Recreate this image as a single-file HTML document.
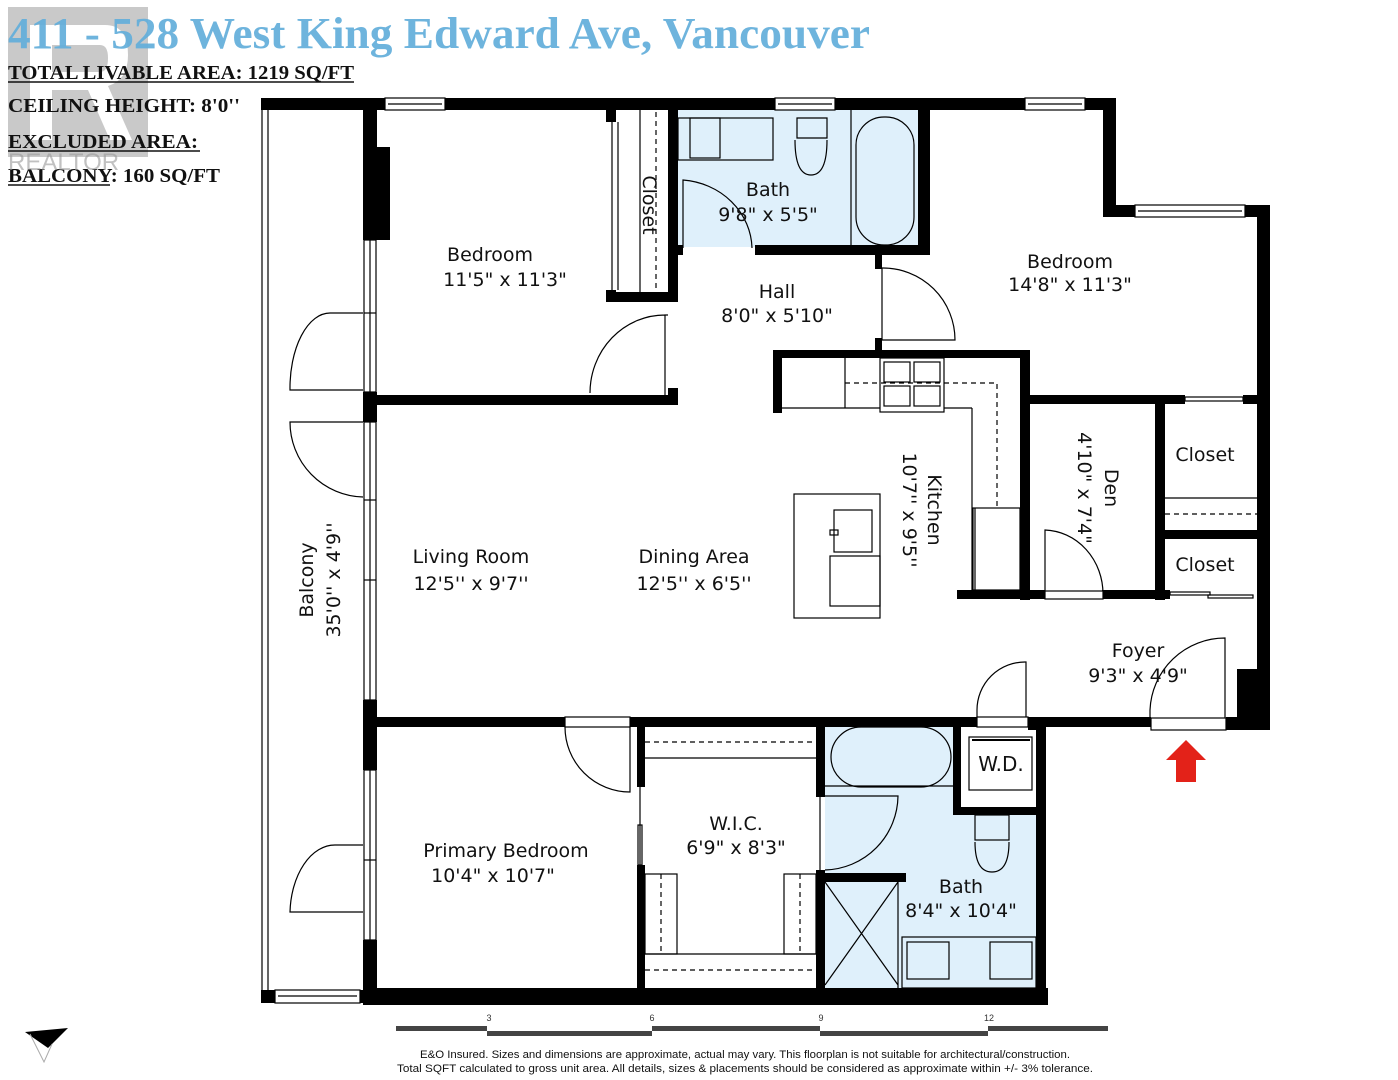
<!DOCTYPE html>
<html><head><meta charset="utf-8"><style>
html,body{margin:0;padding:0;background:#fff;}
body{width:1398px;height:1080px;overflow:hidden;position:relative;}
svg{position:absolute;left:0;top:0;}
</style></head><body>
<svg width="1398" height="1080" viewBox="0 0 1398 1080" xmlns="http://www.w3.org/2000/svg">
<!-- realtor logo faint -->
<g opacity="0.45">
<rect x="8" y="7" width="140" height="150" fill="#888"/>
<path d="M30 25 H105 Q128 25 128 55 Q128 80 108 86 L132 140 H110 L88 90 H52 V140 H30 Z M52 45 V72 H100 Q108 72 108 58 Q108 45 100 45 Z" fill="#fff"/>
</g>
<text x="8" y="48" font-family="Liberation Serif,serif" font-weight="bold" font-size="44" fill="#62aedb" opacity="0.92" textLength="862" lengthAdjust="spacingAndGlyphs">411 - 528 West King Edward Ave, Vancouver</text>
<g font-family="Liberation Serif,serif" font-weight="bold" font-size="20" fill="#111">
<text x="8" y="79" textLength="346" lengthAdjust="spacingAndGlyphs">TOTAL LIVABLE AREA: 1219 SQ/FT</text>
<line x1="8" y1="82" x2="354" y2="82" stroke="#111" stroke-width="1.5"/>
<text x="8" y="112" textLength="232" lengthAdjust="spacingAndGlyphs">CEILING  HEIGHT: 8'0''</text>
<text x="8" y="148" textLength="190" lengthAdjust="spacingAndGlyphs">EXCLUDED AREA:</text>
<line x1="8" y1="151" x2="200" y2="151" stroke="#111" stroke-width="1.5"/>
<text x="8" y="182" textLength="212" lengthAdjust="spacingAndGlyphs">BALCONY: 160 SQ/FT</text>
<line x1="8" y1="185" x2="110" y2="185" stroke="#111" stroke-width="1.5"/>
</g>
<text x="8" y="170" font-family="Liberation Sans,sans-serif" font-size="24" fill="#999" opacity="0.6">REALTOR</text>

<!-- blue baths -->
<rect x="678" y="110" width="240" height="137" fill="#dff0fb"/>
<rect x="825" y="726" width="211" height="262" fill="#dff0fb"/>
<rect x="953" y="726" width="83" height="89" fill="#fff"/>

<g fill="#000">
<rect x="261" y="98" width="855" height="12"/>
<rect x="1103" y="98" width="13" height="119"/>
<rect x="1103" y="205" width="167" height="12"/>
<rect x="1257" y="205" width="13" height="525"/>
<rect x="1237" y="669" width="33" height="61"/>
<rect x="363" y="110" width="14" height="130"/>
<rect x="363" y="147" width="27" height="93"/>
<rect x="363" y="392" width="14" height="30"/>
<rect x="363" y="700" width="14" height="70"/>
<rect x="363" y="940" width="14" height="63"/>
<rect x="363" y="395" width="315" height="10"/>
<rect x="606" y="110" width="10" height="12"/>
<rect x="606" y="290" width="10" height="12"/>
<rect x="606" y="292" width="72" height="10"/>
<rect x="668" y="110" width="10" height="192"/>
<rect x="668" y="388" width="10" height="17"/>
<rect x="668" y="245" width="15" height="10"/>
<rect x="755" y="245" width="175" height="10"/>
<rect x="918" y="110" width="12" height="145"/>
<rect x="875" y="255" width="7" height="14"/>
<rect x="875" y="338" width="7" height="20"/>
<rect x="773" y="350" width="257" height="8"/>
<rect x="773" y="350" width="9" height="63"/>
<rect x="1020" y="350" width="10" height="250"/>
<rect x="1030" y="395" width="155" height="9"/>
<rect x="1243" y="395" width="27" height="9"/>
<rect x="1155" y="395" width="10" height="205"/>
<rect x="1165" y="530" width="92" height="9"/>
<rect x="957" y="590" width="88" height="9"/>
<rect x="1102" y="590" width="68" height="9"/>
<rect x="363" y="717" width="202" height="10"/>
<rect x="630" y="717" width="347" height="10"/>
<rect x="1028" y="717" width="123" height="10"/>
<rect x="1028" y="717" width="10" height="13"/>
<rect x="1226" y="717" width="44" height="13"/>
<rect x="363" y="727" width="14" height="10"/>
<rect x="637" y="727" width="8" height="60"/>
<rect x="637" y="865" width="8" height="125"/>
<rect x="816" y="727" width="9" height="70"/>
<rect x="816" y="870" width="9" height="120"/>
<rect x="816" y="873" width="90" height="9"/>
<rect x="953" y="727" width="8" height="88"/>
<rect x="953" y="807" width="90" height="8"/>
<rect x="1036" y="727" width="10" height="278"/>
<rect x="363" y="988" width="685" height="17"/>
<rect x="261" y="990" width="14" height="13"/>
<rect x="360" y="990" width="10" height="13"/>
</g>

<g fill="none" stroke="#000" stroke-width="1.2">
<rect x="385" y="98" width="60" height="12" fill="#fff"/><line x1="388" y1="104" x2="442" y2="104"/>
<rect x="775" y="98" width="60" height="12" fill="#fff"/><line x1="778" y1="104" x2="832" y2="104"/>
<rect x="1025" y="98" width="60" height="12" fill="#fff"/><line x1="1028" y1="104" x2="1082" y2="104"/>
<rect x="1135" y="205" width="110" height="12" fill="#fff"/><line x1="1138" y1="211" x2="1242" y2="211"/>
<rect x="275" y="990" width="85" height="13" fill="#fff"/><line x1="278" y1="996" x2="357" y2="996"/>
<line x1="262" y1="110" x2="262" y2="990"/><line x1="268" y1="110" x2="268" y2="990"/>
<rect x="364" y="240" width="12" height="152"/><line x1="370" y1="240" x2="370" y2="392"/>
<rect x="364" y="422" width="12" height="278"/><line x1="370" y1="422" x2="370" y2="700"/>
<rect x="364" y="770" width="12" height="170"/><line x1="370" y1="770" x2="370" y2="940"/>
<line x1="364" y1="313" x2="376" y2="313"/><line x1="364" y1="500" x2="376" y2="500"/><line x1="364" y1="580" x2="376" y2="580"/><line x1="364" y1="860" x2="376" y2="860"/>
<path d="M363 313 L330 313 A40 75 0 0 0 290 390 L363 390"/>
<path d="M363 422 L290 422 A75 75 0 0 0 363 497"/>
<path d="M363 845 L335 845 A45 70 0 0 0 290 912 L363 912"/>
<line x1="612" y1="122" x2="612" y2="290"/><line x1="618" y1="122" x2="618" y2="290"/>
<line x1="640" y1="110" x2="640" y2="292"/>
<line x1="656" y1="112" x2="656" y2="290" stroke-dasharray="5,4"/>
<path d="M668 315 L665 315 L665 395 M665 315 A75 78 0 0 0 590 393"/>
<path d="M683 248 L683 180 A75 70 0 0 1 752 248"/>
<rect x="678" y="118" width="95" height="42"/>
<rect x="690" y="118" width="30" height="40"/>
<path d="M797 118 h30 v20 h-30 z M795 140 q0 35 16 35 q16 0 16 -35"/>
<line x1="851" y1="110" x2="851" y2="247"/>
<rect x="856" y="117" width="58" height="128" rx="28"/>
<path d="M882 268 L882 340 L955 340 A72 72 0 0 0 882 268"/>
<line x1="782" y1="408" x2="880" y2="408"/>
<line x1="944" y1="408" x2="972" y2="408"/>
<line x1="972" y1="408" x2="972" y2="590"/>
<line x1="975" y1="508" x2="975" y2="590"/>
<line x1="845" y1="358" x2="845" y2="408"/>
<rect x="880" y="358" width="64" height="54"/>
<rect x="884" y="362" width="26" height="20"/><rect x="914" y="362" width="26" height="20"/>
<rect x="884" y="386" width="26" height="20"/><rect x="914" y="386" width="26" height="20"/>
<path d="M845 383 H997 V508" stroke-dasharray="5,4"/>
<rect x="973" y="508" width="47" height="82"/>
<rect x="794" y="494" width="86" height="124"/>
<rect x="834" y="510" width="38" height="42"/>
<rect x="830" y="556" width="50" height="50"/>
<rect x="830" y="530" width="8" height="5"/>
<path d="M1045 594 L1045 530 A60 64 0 0 1 1103 594"/>
<rect x="1045" y="591" width="58" height="8" fill="#fff"/>
<rect x="1185" y="397" width="58" height="4"/>
<line x1="1165" y1="498" x2="1257" y2="498"/>
<line x1="1165" y1="514" x2="1257" y2="514" stroke-dasharray="5,4"/>
<rect x="1170" y="592" width="40" height="3"/><rect x="1208" y="595" width="45" height="3"/>
<path d="M1150 725 L1150 710 A75 75 0 0 1 1225 638 L1225 725"/>
<rect x="1151" y="718" width="75" height="12" fill="#fff"/>
<path d="M977 720 L977 710 A48 48 0 0 1 1026 662 L1026 720"/>
<rect x="977" y="717" width="51" height="10" fill="#fff"/>
<rect x="565" y="717" width="65" height="10" fill="#fff"/>
<path d="M565 727 A65 65 0 0 0 630 792 L630 727"/>
<line x1="645" y1="742" x2="816" y2="742" stroke-dasharray="5,4"/>
<line x1="645" y1="758" x2="816" y2="758"/>
<line x1="645" y1="954" x2="816" y2="954"/>
<line x1="645" y1="970" x2="816" y2="970" stroke-dasharray="5,4"/>
<rect x="645" y="874" width="32" height="80"/><rect x="784" y="874" width="32" height="80"/>
<line x1="661" y1="874" x2="661" y2="954" stroke-dasharray="5,4"/>
<line x1="800" y1="874" x2="800" y2="954" stroke-dasharray="5,4"/>
<line x1="640" y1="787" x2="640" y2="865"/>
<rect x="638" y="825" width="4" height="40"/>
<rect x="831" y="727" width="120" height="60" rx="30"/>
<line x1="825" y1="786" x2="953" y2="786"/>
<path d="M825 796 L898 796 A75 75 0 0 1 825 870"/>
<line x1="820" y1="797" x2="820" y2="870"/>
<path d="M825 882 L898 985 M898 882 L825 985 M898 882 V988"/>
<rect x="975" y="815" width="34" height="25"/>
<path d="M975 842 q0 30 17 30 q17 0 17 -30"/>
<rect x="902" y="937" width="134" height="51"/>
<rect x="907" y="942" width="42" height="37"/><rect x="990" y="942" width="42" height="37"/>
<rect x="969" y="737" width="63" height="53" fill="#fff"/>
<line x1="972" y1="740" x2="1030" y2="740" stroke-width="2"/>
</g>

<path d="M1186 740 L1206 760 L1196 760 L1196 782 L1176 782 L1176 760 L1166 760 Z" fill="#e32219"/>

<g font-family="DejaVu Sans,Liberation Sans,sans-serif" font-size="19" fill="#111" text-anchor="middle">
<text x="490" y="261">Bedroom</text><text x="505" y="286">11'5" x 11'3"</text>
<text x="768" y="196">Bath</text><text x="768" y="221">9'8" x 5'5"</text>
<text x="777" y="298">Hall</text><text x="777" y="322">8'0" x 5'10"</text>
<text x="1070" y="268">Bedroom</text><text x="1070" y="291">14'8" x 11'3"</text>
<text x="1205" y="461">Closet</text><text x="1205" y="571">Closet</text>
<text x="471" y="563">Living Room</text><text x="471" y="590">12'5'' x 9'7''</text>
<text x="694" y="563">Dining Area</text><text x="694" y="590">12'5'' x 6'5''</text>
<text x="1138" y="657">Foyer</text><text x="1138" y="682">9'3" x 4'9"</text>
<text x="506" y="857">Primary Bedroom</text><text x="493" y="882">10'4" x 10'7"</text>
<text x="736" y="830">W.I.C.</text><text x="736" y="854">6'9" x 8'3"</text>
<text x="961" y="893">Bath</text><text x="961" y="917">8'4" x 10'4"</text>
<text x="1001" y="771" font-size="20">W.D.</text>
<text transform="translate(643,205) rotate(90)">Closet</text>
<text transform="translate(928,510) rotate(90)">Kitchen</text>
<text transform="translate(903,510) rotate(90)">10'7'' x 9'5''</text>
<text transform="translate(1105,488) rotate(90)">Den</text>
<text transform="translate(1078,488) rotate(90)">4'10" x 7'4"</text>
<text transform="translate(313,580) rotate(-90)">Balcony</text>
<text transform="translate(340,580) rotate(-90)">35'0'' x 4'9''</text>
</g>

<g fill="#444">
<rect x="396" y="1026" width="91" height="5"/>
<rect x="487" y="1031" width="165" height="5"/>
<rect x="652" y="1026" width="168" height="5"/>
<rect x="820" y="1031" width="168" height="5"/>
<rect x="988" y="1026" width="120" height="5"/>
</g>
<g font-family="Liberation Sans,sans-serif" font-size="9" fill="#333" text-anchor="middle">
<text x="489" y="1021">3</text><text x="652" y="1021">6</text><text x="821" y="1021">9</text><text x="989" y="1021">12</text>
</g>
<path d="M25 1032 L68 1028 L48 1048 Z" fill="#000"/>
<path d="M30 1034 L44 1062 L52 1044" fill="none" stroke="#aaa" stroke-width="1"/>
<g font-family="Liberation Sans,sans-serif" font-size="11" fill="#111" text-anchor="middle">
<text x="745" y="1058" textLength="650" lengthAdjust="spacingAndGlyphs">E&amp;O Insured. Sizes and dimensions are approximate, actual may vary. This floorplan is not suitable for architectural/construction.</text>
<text x="745" y="1072" textLength="696" lengthAdjust="spacingAndGlyphs">Total SQFT calculated to gross unit area. All details, sizes &amp; placements should be considered as approximate within +/- 3% tolerance.</text>
</g>
</svg>
</body></html>
